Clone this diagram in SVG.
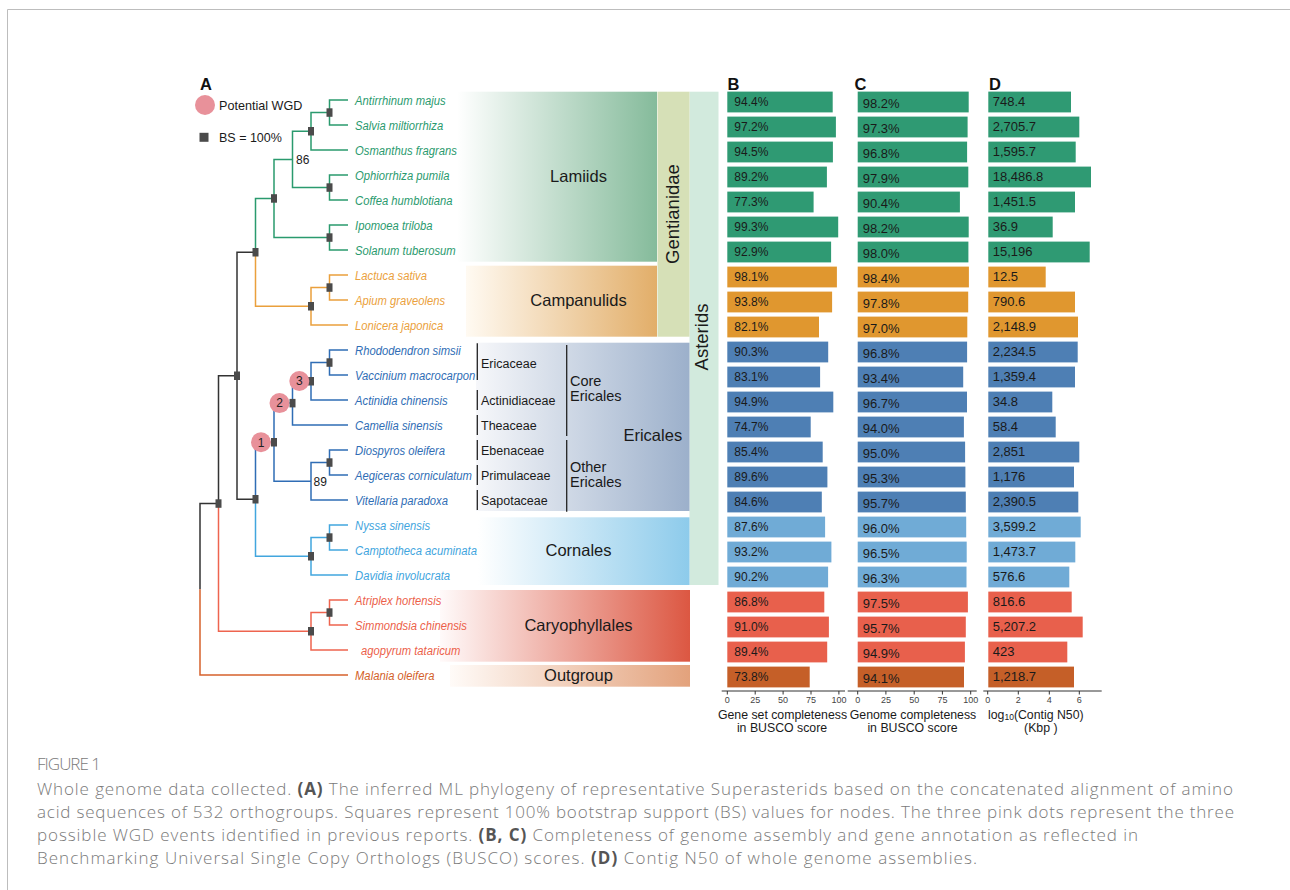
<svg xmlns="http://www.w3.org/2000/svg" width="1290" height="890" viewBox="0 0 1290 890">
<defs>
<style>
.sans{font-family:"Liberation Sans",Arial,sans-serif;}
.tax{font-family:"Liberation Sans",Arial,sans-serif;font-style:italic;font-size:13.1px;}
.br{fill:none;stroke-width:1.5;stroke-linejoin:miter;}
.k{stroke:#333333;}
.gr{stroke:#2a9a6e;}
.or{stroke:#eaa03c;}
.db{stroke:#2f6db5;}
.lb{stroke:#42a6de;}
.rd{stroke:#ee644f;}
.og{stroke:#d6612c;}
.sq{fill:#4b4b4b;}
.wgd{fill:#e8919a;}
.tG{fill:#2a9a6e;}.tO{fill:#eba13c;}.tD{fill:#2f6db5;}.tL{fill:#3fa5de;}.tR{fill:#ec5f4a;}.tK{fill:#d35f2a;}
.bG{fill:#2f9a73;}.bO{fill:#e0972f;}.bD{fill:#4e7fb4;}.bL{fill:#70abd6;}.bR{fill:#e8604c;}.bK{fill:#c55f28;}
.bv{font-family:"Liberation Sans",Arial,sans-serif;font-size:12px;fill:#1a1a1a;}
.cv{font-family:"Liberation Sans",Arial,sans-serif;font-size:13px;fill:#1a1a1a;}
.clade{font-family:"Liberation Sans",Arial,sans-serif;font-size:16.5px;fill:#1a1a1a;text-anchor:middle;}
.fam{font-family:"Liberation Sans",Arial,sans-serif;font-size:12.5px;fill:#1a1a1a;}
.grp{font-family:"Liberation Sans",Arial,sans-serif;font-size:14.5px;fill:#1a1a1a;}
.vl{stroke:#222;stroke-width:1.3;}
.panel{font-family:"Liberation Sans",Arial,sans-serif;font-size:16.5px;font-weight:bold;fill:#111;}
.ax{stroke:#333;stroke-width:1;fill:none;}
.tick{font-family:"Liberation Sans",Arial,sans-serif;font-size:9px;fill:#444;text-anchor:middle;}
.axt{font-family:"Liberation Sans",Arial,sans-serif;font-size:12.3px;fill:#1a1a1a;text-anchor:middle;}
.cap{font-family:"Open Sans","Liberation Sans",sans-serif;font-size:17px;font-weight:300;fill:#7a7a7a;}
.capb{font-weight:bold;fill:#555;}
</style>
<linearGradient id="gLam" x1="0" x2="1" y1="0" y2="0"><stop offset="0" stop-color="#ffffff"/><stop offset="1" stop-color="#85bb9b"/></linearGradient>
<linearGradient id="gCamp" x1="0" x2="1" y1="0" y2="0"><stop offset="0" stop-color="#fffaf2"/><stop offset="1" stop-color="#e2ae69"/></linearGradient>
<linearGradient id="gEric" x1="0" x2="1" y1="0" y2="0"><stop offset="0" stop-color="#f6f7fa"/><stop offset="1" stop-color="#9cb0cb"/></linearGradient>
<linearGradient id="gCorn" x1="0" x2="1" y1="0" y2="0"><stop offset="0" stop-color="#ffffff"/><stop offset="1" stop-color="#8dcbeb"/></linearGradient>
<linearGradient id="gCary" x1="0" x2="1" y1="0" y2="0"><stop offset="0" stop-color="#fffafa"/><stop offset="1" stop-color="#dc5742"/></linearGradient>
<linearGradient id="gOut" x1="0" x2="1" y1="0" y2="0"><stop offset="0" stop-color="#fffbf8"/><stop offset="1" stop-color="#e3a27c"/></linearGradient>
</defs>

<rect x="0" y="0" width="1290" height="890" fill="#ffffff"/>
<path d="M7.5,890 V9.5 H1290" fill="none" stroke="#bdbdbd" stroke-width="1"/>

<!-- clade boxes -->
<g id="band-asterids"><rect x="689.5" y="91.7" width="29" height="493.3" fill="#d2eadd"/>
<text class="sans" font-size="18.5" fill="#1a1a1a" text-anchor="middle" transform="translate(708,337) rotate(-90)">Asterids</text></g>
<g id="band-gentianidae"><rect x="657.5" y="91.7" width="32" height="245" fill="#d6e0b7"/>
<text class="sans" font-size="18.5" fill="#1a1a1a" text-anchor="middle" transform="translate(679,214) rotate(-90)">Gentianidae</text></g>
<g id="box-lamiids"><rect x="457" y="91.7" width="200" height="170" fill="url(#gLam)"/><text class="clade" x="578.5" y="182">Lamiids</text></g>
<g id="box-campanulids"><rect x="466" y="265.7" width="191" height="71" fill="url(#gCamp)"/><text class="clade" x="578.5" y="306">Campanulids</text></g>
<g id="box-ericales"><rect x="476" y="342.7" width="213.5" height="168.3" fill="url(#gEric)"/><text class="clade" x="652.8" y="441">Ericales</text></g>
<g id="box-cornales"><rect x="478" y="517.3" width="211.5" height="67.7" fill="url(#gCorn)"/><text class="clade" x="578.5" y="556">Cornales</text></g>
<g id="box-caryophyllales"><rect x="440" y="590" width="250" height="71.7" fill="url(#gCary)"/><text class="clade" x="578.5" y="631">Caryophyllales</text></g>
<g id="box-outgroup"><rect x="450" y="665" width="240" height="21.7" fill="url(#gOut)"/><text class="clade" x="578.5" y="681">Outgroup</text></g>

<!-- families -->
<g id="families">
<line class="vl" x1="477.3" y1="343.3" x2="477.3" y2="380"/><text class="fam" x="481" y="368">Ericaceae</text>
<line class="vl" x1="477.3" y1="390" x2="477.3" y2="410"/><text class="fam" x="481" y="404.5">Actinidiaceae</text>
<line class="vl" x1="477.3" y1="415" x2="477.3" y2="435"/><text class="fam" x="481" y="429.5">Theaceae</text>
<line class="vl" x1="477.3" y1="440" x2="477.3" y2="460"/><text class="fam" x="481" y="454.5">Ebenaceae</text>
<line class="vl" x1="477.3" y1="465" x2="477.3" y2="485"/><text class="fam" x="481" y="479.5">Primulaceae</text>
<line class="vl" x1="477.3" y1="490" x2="477.3" y2="510"/><text class="fam" x="481" y="504.5">Sapotaceae</text>
<line class="vl" x1="566.7" y1="345" x2="566.7" y2="436"/><text class="grp" x="570" y="386">Core</text><text class="grp" x="570" y="401">Ericales</text>
<line class="vl" x1="566.7" y1="440" x2="566.7" y2="511.7"/><text class="grp" x="570" y="472">Other</text><text class="grp" x="570" y="487">Ericales</text>
</g>

<!-- legend -->
<g id="legend">
<text class="panel" x="200" y="90">A</text>
<circle class="wgd" cx="205" cy="105" r="10"/>
<text class="sans" font-size="12.6" fill="#1a1a1a" x="219" y="109.5">Potential WGD</text>
<rect class="sq" x="199.5" y="132.8" width="9" height="9"/>
<text class="sans" font-size="12.5" fill="#1a1a1a" x="219" y="141.8">BS = 100%</text>
</g>

<!-- tree branches -->
<g id="connectors">
<path class="br gr" d="M348,100 H329.5 V125 H348"/>
<path class="br gr" d="M329.5,112.5 H311 V150 H348"/>
<path class="br gr" d="M348,175 H329.5 V200 H348"/>
<path class="br gr" d="M311,131.25 H292.5 V187.5 H329.5"/>
<path class="br gr" d="M348,225 H329.5 V250 H348"/>
<path class="br gr" d="M292.5,159.4 H274 V237.5 H329.5"/>
<path class="br gr" d="M274,198.45 H255.5 V252.3"/>
<path class="br or" d="M255.5,252.3 V306.25 H311"/>
<path class="br or" d="M348,275 H329.5 V300 H348"/>
<path class="br or" d="M329.5,287.5 H311 V325 H348"/>
<path class="br k" d="M255.5,252.3 H237 V499.2 H255.5"/>
<path class="br db" d="M348,350 H329.5 V375 H348"/>
<path class="br db" d="M329.5,362.5 H311 V400 H348"/>
<path class="br db" d="M311,381.25 H292.5 V425 H348"/>
<path class="br db" d="M348,450 H329.5 V475 H348"/>
<path class="br db" d="M329.5,462.5 H311 V500 H348"/>
<path class="br db" d="M292.5,403.1 H274 V481.25 H311"/>
<path class="br db" d="M274,442.2 H255.5 V499.2"/>
<path class="br lb" d="M255.5,499.2 V556.25 H311"/>
<path class="br lb" d="M348,525 H329.5 V550 H348"/>
<path class="br lb" d="M329.5,537.5 H311 V575 H348"/>
<path class="br k" d="M237,375.75 H218.5 V503.5"/>
<path class="br rd" d="M218.5,503.5 V631.25 H311"/>
<path class="br rd" d="M348,600 H329.5 V625 H348"/>
<path class="br rd" d="M329.5,612.5 H311 V650 H348"/>
<path class="br k" d="M218.5,503.5 H200 V589.25"/>
<path class="br og" d="M200,589.25 V675 H348"/>
</g>

<!-- bootstrap squares -->
<g id="bs-markers">
<rect class="sq" x="326.5" y="108.3" width="6" height="8.5"/>
<rect class="sq" x="308" y="127" width="6" height="8.5"/>
<rect class="sq" x="326.5" y="183.3" width="6" height="8.5"/>
<rect class="sq" x="326.5" y="233.3" width="6" height="8.5"/>
<rect class="sq" x="271" y="194.2" width="6" height="8.5"/>
<rect class="sq" x="252.5" y="248" width="6" height="8.5"/>
<rect class="sq" x="326.5" y="283.3" width="6" height="8.5"/>
<rect class="sq" x="308" y="302" width="6" height="8.5"/>
<rect class="sq" x="234" y="371.5" width="6" height="8.5"/>
<rect class="sq" x="326.5" y="358.3" width="6" height="8.5"/>
<rect class="sq" x="308" y="377" width="6" height="8.5"/>
<rect class="sq" x="289.5" y="398.9" width="6" height="8.5"/>
<rect class="sq" x="271" y="438" width="6" height="8.5"/>
<rect class="sq" x="326.5" y="458.3" width="6" height="8.5"/>
<rect class="sq" x="252.5" y="495" width="6" height="8.5"/>
<rect class="sq" x="326.5" y="533.3" width="6" height="8.5"/>
<rect class="sq" x="308" y="552" width="6" height="8.5"/>
<rect class="sq" x="215.5" y="499.3" width="6" height="8.5"/>
<rect class="sq" x="326.5" y="608.3" width="6" height="8.5"/>
<rect class="sq" x="308" y="627" width="6" height="8.5"/>
</g>

<g id="bs-values">
<text class="sans" font-size="12" fill="#1a1a1a" x="296" y="164">86</text>
<text class="sans" font-size="12" fill="#1a1a1a" x="313.5" y="486">89</text>
</g>

<g id="wgd-events">
<g id="wgd1"><circle class="wgd" cx="261" cy="442.2" r="10"/><text class="sans" font-size="12" fill="#222" text-anchor="middle" x="261" y="446.5">1</text></g>
<g id="wgd2"><circle class="wgd" cx="279.5" cy="403.1" r="10"/><text class="sans" font-size="12" fill="#222" text-anchor="middle" x="279.5" y="407.4">2</text></g>
<g id="wgd3"><circle class="wgd" cx="299.3" cy="381" r="10"/><text class="sans" font-size="12" fill="#222" text-anchor="middle" x="299.3" y="385.3">3</text></g>
</g>

<!-- taxa labels -->
<g id="taxa">
<g id="t0"><text class="tax tG" transform="translate(355,104.7) scale(0.86,1)">Antirrhinum majus</text></g>
<g id="t1"><text class="tax tG" transform="translate(355,129.7) scale(0.86,1)">Salvia miltiorrhiza</text></g>
<g id="t2"><text class="tax tG" transform="translate(355,154.7) scale(0.86,1)">Osmanthus fragrans</text></g>
<g id="t3"><text class="tax tG" transform="translate(355,179.7) scale(0.86,1)">Ophiorrhiza pumila</text></g>
<g id="t4"><text class="tax tG" transform="translate(355,204.7) scale(0.86,1)">Coffea humblotiana</text></g>
<g id="t5"><text class="tax tG" transform="translate(355,229.7) scale(0.86,1)">Ipomoea triloba</text></g>
<g id="t6"><text class="tax tG" transform="translate(355,254.7) scale(0.86,1)">Solanum tuberosum</text></g>
<g id="t7"><text class="tax tO" transform="translate(355,279.7) scale(0.86,1)">Lactuca sativa</text></g>
<g id="t8"><text class="tax tO" transform="translate(355,304.7) scale(0.86,1)">Apium graveolens</text></g>
<g id="t9"><text class="tax tO" transform="translate(355,329.7) scale(0.86,1)">Lonicera japonica</text></g>
<g id="t10"><text class="tax tD" transform="translate(355,354.7) scale(0.86,1)">Rhododendron simsii</text></g>
<g id="t11"><text class="tax tD" transform="translate(355,379.7) scale(0.86,1)">Vaccinium macrocarpon</text></g>
<g id="t12"><text class="tax tD" transform="translate(355,404.7) scale(0.86,1)">Actinidia chinensis</text></g>
<g id="t13"><text class="tax tD" transform="translate(355,429.7) scale(0.86,1)">Camellia sinensis</text></g>
<g id="t14"><text class="tax tD" transform="translate(355,454.7) scale(0.86,1)">Diospyros oleifera</text></g>
<g id="t15"><text class="tax tD" transform="translate(355,479.7) scale(0.86,1)">Aegiceras corniculatum</text></g>
<g id="t16"><text class="tax tD" transform="translate(355,504.7) scale(0.86,1)">Vitellaria paradoxa</text></g>
<g id="t17"><text class="tax tL" transform="translate(355,529.7) scale(0.86,1)">Nyssa sinensis</text></g>
<g id="t18"><text class="tax tL" transform="translate(355,554.7) scale(0.86,1)">Camptotheca acuminata</text></g>
<g id="t19"><text class="tax tL" transform="translate(355,579.7) scale(0.86,1)">Davidia involucrata</text></g>
<g id="t20"><text class="tax tR" transform="translate(355,604.7) scale(0.86,1)">Atriplex hortensis</text></g>
<g id="t21"><text class="tax tR" transform="translate(355,629.7) scale(0.86,1)">Simmondsia chinensis</text></g>
<g id="t22"><text class="tax tR" transform="translate(361,654.7) scale(0.86,1)">agopyrum tataricum</text></g>
<g id="t23"><text class="tax tK" transform="translate(355,679.7) scale(0.86,1)">Malania oleifera</text></g>
</g>

<!-- panel B -->
<g id="panel-B">
<text class="panel" x="727.5" y="90">B</text>
<rect class="bG" x="727.3" y="91.6" width="105.4" height="20.8"/><text class="bv" x="734.3" y="106">94.4%</text>
<rect class="bG" x="727.3" y="116.6" width="108.6" height="20.8"/><text class="bv" x="734.3" y="131">97.2%</text>
<rect class="bG" x="727.3" y="141.6" width="105.6" height="20.8"/><text class="bv" x="734.3" y="156">94.5%</text>
<rect class="bG" x="727.3" y="166.6" width="99.6" height="20.8"/><text class="bv" x="734.3" y="181">89.2%</text>
<rect class="bG" x="727.3" y="191.6" width="86.3" height="20.8"/><text class="bv" x="734.3" y="206">77.3%</text>
<rect class="bG" x="727.3" y="216.6" width="110.9" height="20.8"/><text class="bv" x="734.3" y="231">99.3%</text>
<rect class="bG" x="727.3" y="241.6" width="103.8" height="20.8"/><text class="bv" x="734.3" y="256">92.9%</text>
<rect class="bO" x="727.3" y="266.6" width="109.6" height="20.8"/><text class="bv" x="734.3" y="281">98.1%</text>
<rect class="bO" x="727.3" y="291.6" width="104.8" height="20.8"/><text class="bv" x="734.3" y="306">93.8%</text>
<rect class="bO" x="727.3" y="316.6" width="91.7" height="20.8"/><text class="bv" x="734.3" y="331">82.1%</text>
<rect class="bD" x="727.3" y="341.6" width="100.9" height="20.8"/><text class="bv" x="734.3" y="356">90.3%</text>
<rect class="bD" x="727.3" y="366.6" width="92.8" height="20.8"/><text class="bv" x="734.3" y="381">83.1%</text>
<rect class="bD" x="727.3" y="391.6" width="106" height="20.8"/><text class="bv" x="734.3" y="406">94.9%</text>
<rect class="bD" x="727.3" y="416.6" width="83.4" height="20.8"/><text class="bv" x="734.3" y="431">74.7%</text>
<rect class="bD" x="727.3" y="441.6" width="95.4" height="20.8"/><text class="bv" x="734.3" y="456">85.4%</text>
<rect class="bD" x="727.3" y="466.6" width="100.1" height="20.8"/><text class="bv" x="734.3" y="481">89.6%</text>
<rect class="bD" x="727.3" y="491.6" width="94.5" height="20.8"/><text class="bv" x="734.3" y="506">84.6%</text>
<rect class="bL" x="727.3" y="516.6" width="97.8" height="20.8"/><text class="bv" x="734.3" y="531">87.6%</text>
<rect class="bL" x="727.3" y="541.6" width="104.1" height="20.8"/><text class="bv" x="734.3" y="556">93.2%</text>
<rect class="bL" x="727.3" y="566.6" width="100.8" height="20.8"/><text class="bv" x="734.3" y="581">90.2%</text>
<rect class="bR" x="727.3" y="591.6" width="97" height="20.8"/><text class="bv" x="734.3" y="606">86.8%</text>
<rect class="bR" x="727.3" y="616.6" width="101.6" height="20.8"/><text class="bv" x="734.3" y="631">91.0%</text>
<rect class="bR" x="727.3" y="641.6" width="99.9" height="20.8"/><text class="bv" x="734.3" y="656">89.4%</text>
<rect class="bK" x="727.3" y="666.6" width="82.4" height="20.8"/><text class="bv" x="734.3" y="681">73.8%</text>
<path class="ax" d="M721.7,691 H845 M727.3,691 V694.5 M755.2,691 V694.5 M783.1,691 V694.5 M811,691 V694.5 M838.9,691 V694.5"/>
<text class="tick" x="727.3" y="702.5">0</text><text class="tick" x="755.2" y="702.5">25</text><text class="tick" x="783.1" y="702.5">50</text><text class="tick" x="811" y="702.5">75</text><text class="tick" x="838.9" y="702.5">100</text>
<text class="axt" x="782.5" y="718.5">Gene set completeness</text>
<text class="axt" x="782" y="732">in BUSCO score</text>
</g>

<!-- panel C -->
<g id="panel-C">
<text class="panel" x="854.5" y="90">C</text>
<rect class="bG" x="857.7" y="91.6" width="111" height="20.8"/><text class="cv" x="862.7" y="107.5">98.2%</text>
<rect class="bG" x="857.7" y="116.6" width="109.9" height="20.8"/><text class="cv" x="862.7" y="132.5">97.3%</text>
<rect class="bG" x="857.7" y="141.6" width="109.4" height="20.8"/><text class="cv" x="862.7" y="157.5">96.8%</text>
<rect class="bG" x="857.7" y="166.6" width="110.6" height="20.8"/><text class="cv" x="862.7" y="182.5">97.9%</text>
<rect class="bG" x="857.7" y="191.6" width="102.2" height="20.8"/><text class="cv" x="862.7" y="207.5">90.4%</text>
<rect class="bG" x="857.7" y="216.6" width="111" height="20.8"/><text class="cv" x="862.7" y="232.5">98.2%</text>
<rect class="bG" x="857.7" y="241.6" width="110.7" height="20.8"/><text class="cv" x="862.7" y="257.5">98.0%</text>
<rect class="bO" x="857.7" y="266.6" width="111.2" height="20.8"/><text class="cv" x="862.7" y="282.5">98.4%</text>
<rect class="bO" x="857.7" y="291.6" width="110.5" height="20.8"/><text class="cv" x="862.7" y="307.5">97.8%</text>
<rect class="bO" x="857.7" y="316.6" width="109.6" height="20.8"/><text class="cv" x="862.7" y="332.5">97.0%</text>
<rect class="bD" x="857.7" y="341.6" width="109.4" height="20.8"/><text class="cv" x="862.7" y="357.5">96.8%</text>
<rect class="bD" x="857.7" y="366.6" width="105.5" height="20.8"/><text class="cv" x="862.7" y="382.5">93.4%</text>
<rect class="bD" x="857.7" y="391.6" width="109.3" height="20.8"/><text class="cv" x="862.7" y="407.5">96.7%</text>
<rect class="bD" x="857.7" y="416.6" width="106.2" height="20.8"/><text class="cv" x="862.7" y="432.5">94.0%</text>
<rect class="bD" x="857.7" y="441.6" width="107.4" height="20.8"/><text class="cv" x="862.7" y="457.5">95.0%</text>
<rect class="bD" x="857.7" y="466.6" width="107.7" height="20.8"/><text class="cv" x="862.7" y="482.5">95.3%</text>
<rect class="bD" x="857.7" y="491.6" width="108.1" height="20.8"/><text class="cv" x="862.7" y="507.5">95.7%</text>
<rect class="bL" x="857.7" y="516.6" width="108.5" height="20.8"/><text class="cv" x="862.7" y="532.5">96.0%</text>
<rect class="bL" x="857.7" y="541.6" width="109" height="20.8"/><text class="cv" x="862.7" y="557.5">96.5%</text>
<rect class="bL" x="857.7" y="566.6" width="108.8" height="20.8"/><text class="cv" x="862.7" y="582.5">96.3%</text>
<rect class="bR" x="857.7" y="591.6" width="110.2" height="20.8"/><text class="cv" x="862.7" y="607.5">97.5%</text>
<rect class="bR" x="857.7" y="616.6" width="108.1" height="20.8"/><text class="cv" x="862.7" y="632.5">95.7%</text>
<rect class="bR" x="857.7" y="641.6" width="107.2" height="20.8"/><text class="cv" x="862.7" y="657.5">94.9%</text>
<rect class="bK" x="857.7" y="666.6" width="106.3" height="20.8"/><text class="cv" x="862.7" y="682.5">94.1%</text>
<path class="ax" d="M847.7,691 H976.7 M857.7,691 V694.5 M885.9,691 V694.5 M914.2,691 V694.5 M942.4,691 V694.5 M970.7,691 V694.5"/>
<text class="tick" x="857.7" y="702.5">0</text><text class="tick" x="885.9" y="702.5">25</text><text class="tick" x="914.2" y="702.5">50</text><text class="tick" x="942.4" y="702.5">75</text><text class="tick" x="970.7" y="702.5">100</text>
<text class="axt" x="913" y="718.5">Genome completeness</text>
<text class="axt" x="912.5" y="732">in BUSCO score</text>
</g>

<!-- panel D -->
<g id="panel-D">
<text class="panel" x="989" y="90">D</text>
<rect class="bG" x="988.3" y="91.6" width="82.7" height="20.8"/><text class="cv" x="992.7" y="106">748.4</text>
<rect class="bG" x="988.3" y="116.6" width="91" height="20.8"/><text class="cv" x="992.7" y="131">2,705.7</text>
<rect class="bG" x="988.3" y="141.6" width="87.4" height="20.8"/><text class="cv" x="992.7" y="156">1,595.7</text>
<rect class="bG" x="988.3" y="166.6" width="102.7" height="20.8"/><text class="cv" x="992.7" y="181">18,486.8</text>
<rect class="bG" x="988.3" y="191.6" width="86.7" height="20.8"/><text class="cv" x="992.7" y="206">1,451.5</text>
<rect class="bG" x="988.3" y="216.6" width="64.4" height="20.8"/><text class="cv" x="992.7" y="231">36.9</text>
<rect class="bG" x="988.3" y="241.6" width="101.4" height="20.8"/><text class="cv" x="992.7" y="256">15,196</text>
<rect class="bO" x="988.3" y="266.6" width="57.4" height="20.8"/><text class="cv" x="992.7" y="281">12.5</text>
<rect class="bO" x="988.3" y="291.6" width="86.7" height="20.8"/><text class="cv" x="992.7" y="306">790.6</text>
<rect class="bO" x="988.3" y="316.6" width="89.7" height="20.8"/><text class="cv" x="992.7" y="331">2,148.9</text>
<rect class="bD" x="988.3" y="341.6" width="89.4" height="20.8"/><text class="cv" x="992.7" y="356">2,234.5</text>
<rect class="bD" x="988.3" y="366.6" width="86.7" height="20.8"/><text class="cv" x="992.7" y="381">1,359.4</text>
<rect class="bD" x="988.3" y="391.6" width="64" height="20.8"/><text class="cv" x="992.7" y="406">34.8</text>
<rect class="bD" x="988.3" y="416.6" width="67.4" height="20.8"/><text class="cv" x="992.7" y="431">58.4</text>
<rect class="bD" x="988.3" y="441.6" width="91" height="20.8"/><text class="cv" x="992.7" y="456">2,851</text>
<rect class="bD" x="988.3" y="466.6" width="85.7" height="20.8"/><text class="cv" x="992.7" y="481">1,176</text>
<rect class="bD" x="988.3" y="491.6" width="90" height="20.8"/><text class="cv" x="992.7" y="506">2,390.5</text>
<rect class="bL" x="988.3" y="516.6" width="92.4" height="20.8"/><text class="cv" x="992.7" y="531">3,599.2</text>
<rect class="bL" x="988.3" y="541.6" width="87" height="20.8"/><text class="cv" x="992.7" y="556">1,473.7</text>
<rect class="bL" x="988.3" y="566.6" width="81" height="20.8"/><text class="cv" x="992.7" y="581">576.6</text>
<rect class="bR" x="988.3" y="591.6" width="83.4" height="20.8"/><text class="cv" x="992.7" y="606">816.6</text>
<rect class="bR" x="988.3" y="616.6" width="94.4" height="20.8"/><text class="cv" x="992.7" y="631">5,207.2</text>
<rect class="bR" x="988.3" y="641.6" width="79" height="20.8"/><text class="cv" x="992.7" y="656">423</text>
<rect class="bK" x="988.3" y="666.6" width="85.7" height="20.8"/><text class="cv" x="992.7" y="681">1,218.7</text>
<path class="ax" d="M983.3,691 H1101.7 M987.7,691 V694.5 M1018.3,691 V694.5 M1049.3,691 V694.5 M1079.3,691 V694.5"/>
<text class="tick" x="987.7" y="702.5">0</text><text class="tick" x="1018.3" y="702.5">2</text><text class="tick" x="1049.3" y="702.5">4</text><text class="tick" x="1079.3" y="702.5">6</text>
<text class="axt" x="1035.8" y="718.5">log<tspan font-size="8.5" dy="1.5">10</tspan><tspan dy="-1.5">(Contig N50)</tspan></text>
<text class="axt" x="1040.8" y="732">(Kbp )</text>
</g>

<!-- caption -->
<g id="caption">
<text class="cap" x="37" y="770" font-size="13.5" fill="#666" textLength="64">FIGURE 1</text>
<text class="cap" x="37" y="795" textLength="1196" lengthAdjust="spacing">Whole genome data collected. <tspan class="capb">(A)</tspan> The inferred ML phylogeny of representative Superasterids based on the concatenated alignment of amino</text>
<text class="cap" x="37" y="818" textLength="1197" lengthAdjust="spacing">acid sequences of 532 orthogroups. Squares represent 100% bootstrap support (BS) values for nodes. The three pink dots represent the three</text>
<text class="cap" x="37" y="841" textLength="1101" lengthAdjust="spacing">possible WGD events identified in previous reports. <tspan class="capb">(B, C)</tspan> Completeness of genome assembly and gene annotation as reflected in</text>
<text class="cap" x="37" y="864" textLength="940" lengthAdjust="spacing">Benchmarking Universal Single Copy Orthologs (BUSCO) scores. <tspan class="capb">(D)</tspan> Contig N50 of whole genome assemblies.</text>
</g>
</svg>
